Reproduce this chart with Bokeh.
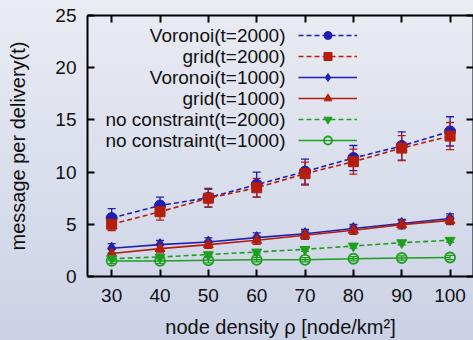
from bokeh.plotting import figure
from bokeh.models import (ColumnDataSource, Whisker, TeeHead, LinearAxis, FixedTicker,
                          Legend, LegendItem, Label, Range1d)
from bokeh.core.properties import value
from bokeh.embed import file_html
from bokeh.resources import INLINE

# ---------------- data ----------------
density = [30, 40, 50, 60, 70, 80, 90, 100]
x_ticks = [30, 40, 50, 60, 70, 80, 90, 100]
y_ticks = [0, 5, 10, 15, 20, 25]

voronoi_2000 = [5.6, 6.8, 7.55, 8.8, 10.05, 11.35, 12.5, 13.9]
voronoi_2000_err = [0.9, 0.8, 0.9, 1.2, 1.2, 1.2, 1.35, 1.4]
grid_2000 = [5.0, 6.2, 7.5, 8.5, 9.85, 11.0, 12.3, 13.45]
grid_2000_err = [0.6, 0.8, 0.85, 0.9, 1.1, 1.2, 1.2, 1.3]
voronoi_1000 = [2.7, 3.05, 3.3, 3.72, 4.1, 4.6, 5.07, 5.55]
voronoi_1000_err = [0.45, 0.4, 0.4, 0.45, 0.4, 0.4, 0.4, 0.45]
grid_1000 = [2.2, 2.67, 3.05, 3.47, 3.95, 4.43, 4.97, 5.38]
grid_1000_err = [0.4, 0.4, 0.35, 0.4, 0.4, 0.4, 0.4, 0.4]
nc_2000 = [1.71, 1.87, 2.1, 2.35, 2.6, 2.92, 3.24, 3.47]
nc_2000_err = [0.15, 0.15, 0.15, 0.2, 0.2, 0.2, 0.2, 0.2]
nc_1000 = [1.49, 1.49, 1.55, 1.6, 1.6, 1.7, 1.77, 1.82]
nc_1000_err = [0.25, 0.25, 0.25, 0.2, 0.2, 0.2, 0.2, 0.2]

series_labels = ["Voronoi(t=2000)", "grid(t=2000)", "Voronoi(t=1000)",
                 "grid(t=1000)", "no constraint(t=2000)", "no constraint(t=1000)"]
series_values = [voronoi_2000, grid_2000, voronoi_1000, grid_1000, nc_2000, nc_1000]
series_errors = [voronoi_2000_err, grid_2000_err, voronoi_1000_err, grid_1000_err,
                 nc_2000_err, nc_1000_err]

# ---------------- styles ----------------
BLUE = "#1f1fb0"
RED = "#b51e0c"
GREEN = "#1f9e1f"
styles = [
    dict(color=BLUE, dash="5 3", marker="circle", size=11, fill=True),
    dict(color=RED, dash="5 3", marker="square", size=10, fill=True),
    dict(color=BLUE, dash="solid", marker="diamond", size=12, fill=True),
    dict(color=RED, dash="solid", marker="triangle", size=10, fill=True),
    dict(color=GREEN, dash="5 3", marker="inverted_triangle", size=10, fill=True),
    dict(color=GREEN, dash="solid", marker="circle", size=10, fill=False),
]
FONT = "Liberation Sans"

W, H = 473, 340
p = figure(width=W, height=H, output_backend="svg", toolbar_location=None,
           x_range=Range1d(25, 104.85), y_range=Range1d(0, 25),
           min_border_left=87, min_border_right=0, min_border_top=15,
           min_border_bottom=64)
p.styles = {"background": "linear-gradient(to bottom, #eaecf3, #cbd2e6)"}
p.border_fill_alpha = 0
p.background_fill_alpha = 0
p.outline_line_color = None
p.grid.visible = False

xaxis = p.below[0]
yaxis = p.left[0]
xaxis.ticker = FixedTicker(ticks=x_ticks)
yaxis.ticker = FixedTicker(ticks=y_ticks)
for ax in (xaxis, yaxis):
    ax.axis_line_width = 2
    ax.major_tick_line_width = 2
    ax.major_tick_in = 7
    ax.major_tick_out = 0
    ax.minor_tick_line_color = None
    ax.major_label_text_font = FONT
    ax.major_label_text_font_size = "19px"
    ax.major_label_text_color = "#111111"
    ax.axis_label_text_font = FONT
    ax.axis_label_text_font_size = "20px"
    ax.axis_label_text_font_style = "normal"
    ax.axis_label_text_color = "#111111"
xaxis.major_label_standoff = 12
yaxis.major_label_standoff = 11
xaxis.axis_label = "node density \u03c1 [node/km\u00b2]"
yaxis.axis_label = "message per delivery(t)"
xaxis.axis_label_standoff = 11
yaxis.axis_label_standoff = 23

top_axis = LinearAxis(ticker=FixedTicker(ticks=x_ticks))
right_axis = LinearAxis(ticker=FixedTicker(ticks=y_ticks))
for ax in (top_axis, right_axis):
    ax.axis_line_width = 2
    ax.major_tick_line_width = 2
    ax.major_tick_in = 7
    ax.major_tick_out = 0
    ax.minor_tick_line_color = None
    ax.major_label_text_font_size = "0px"
    ax.major_label_standoff = 0
    ax.major_label_text_color = None
p.add_layout(top_axis, "above")
p.add_layout(right_axis, "right")

legend_items = []
for lab, vals, errs, st in zip(series_labels, series_values, series_errors, styles):
    src = ColumnDataSource(dict(
        x=density, y=vals,
        lo=[v - e for v, e in zip(vals, errs)],
        hi=[v + e for v, e in zip(vals, errs)]))
    wk = Whisker(source=src, base="x", lower="lo", upper="hi",
                 line_color=st["color"], line_width=1.3,
                 upper_head=TeeHead(size=8, line_color=st["color"], line_width=1.3),
                 lower_head=TeeHead(size=8, line_color=st["color"], line_width=1.3))
    p.add_layout(wk)
    ln = p.line("x", "y", source=src, line_color=st["color"], line_width=1.6,
                line_dash=st["dash"])
    if st["fill"]:
        mk = p.scatter("x", "y", source=src, marker=st["marker"], size=st["size"],
                       fill_color=st["color"], line_color=st["color"], line_width=1)
    else:
        mk = p.scatter("x", "y", source=src, marker=st["marker"], size=st["size"],
                       fill_color=None, line_color=st["color"], line_width=1.8)
    legend_items.append(LegendItem(label=value(" "), renderers=[ln, mk]))

legend = Legend(items=legend_items, location=(211, 126), glyph_width=59,
                glyph_height=20, label_height=20, label_width=0, label_standoff=0,
                spacing=1, padding=0, margin=0, border_line_color=None,
                background_fill_alpha=0, label_text_font_size="1px")
p.add_layout(legend)

for i, lab in enumerate(series_labels):
    p.add_layout(Label(x=198, y=241 - 21 * i, x_units="screen", y_units="screen",
                       text=lab, text_align="right", text_baseline="middle",
                       text_font=FONT, text_font_size="19px", text_color="#111111"))

open("out.html", "w").write(file_html(p, INLINE))
